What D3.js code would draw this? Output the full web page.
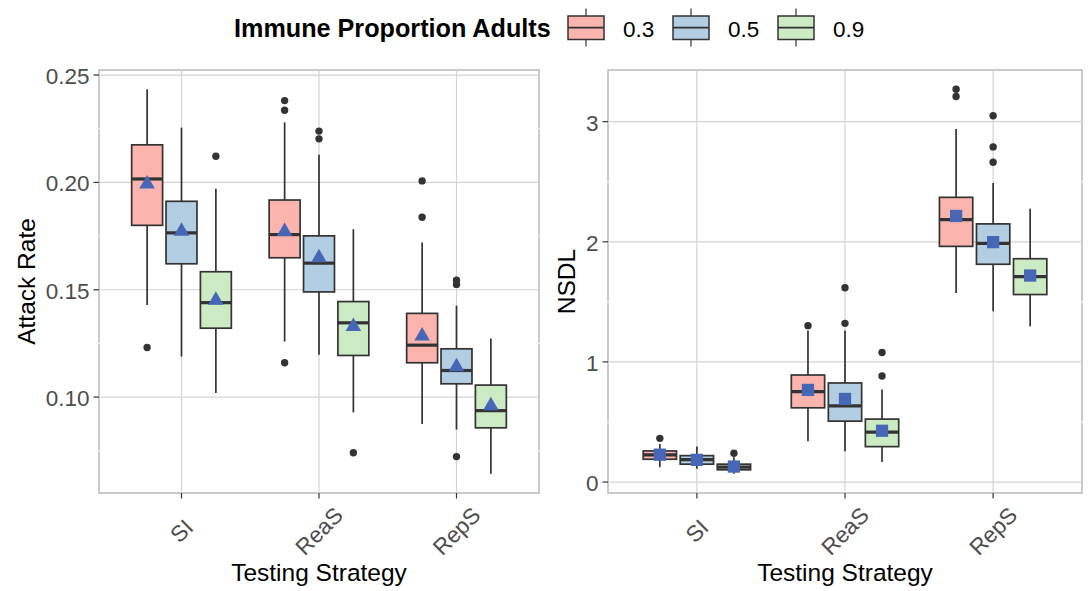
<!DOCTYPE html>
<html><head><meta charset="utf-8">
<script src="https://cdn.jsdelivr.net/npm/d3@7"></script>
<style>
body{margin:0;background:#fff}
text{font-family:"Liberation Sans",Arial,Helvetica,sans-serif}
</style>
</head><body>
<svg id="chart" width="1090" height="591"></svg>
<script>
// ---------- data ----------
const strategies = ["SI", "ReaS", "RepS"];
const immuneLevels = ["0.3", "0.5", "0.9"];
const fillColors = ["#FBB4AE", "#B3CDE3", "#CCEBC5"];
const legendTitle = "Immune Proportion Adults";
const xTitle = "Testing Strategy";

// order of every array: SI(0.3,0.5,0.9), ReaS(0.3,0.5,0.9), RepS(0.3,0.5,0.9)
const attackLow    = [0.1429, 0.1189, 0.1019, 0.1259, 0.1197, 0.0929, 0.0875, 0.0849, 0.0643];
const attackQ1     = [0.1800, 0.1621, 0.1321, 0.1649, 0.1490, 0.1194, 0.1160, 0.1062, 0.0857];
const attackMedian = [0.2016, 0.1765, 0.1440, 0.1757, 0.1624, 0.1346, 0.1242, 0.1124, 0.0937];
const attackQ3     = [0.2175, 0.1912, 0.1584, 0.1918, 0.1751, 0.1445, 0.1390, 0.1225, 0.1056];
const attackHigh   = [0.2434, 0.2255, 0.1971, 0.2280, 0.2129, 0.1782, 0.1720, 0.1426, 0.1273];
const attackMean   = [0.1993, 0.1773, 0.1451, 0.1771, 0.1649, 0.1329, 0.1285, 0.1141, 0.0960];
const attackOutliers = [[0.1231], [], [0.2122], [0.2381, 0.2336, 0.1160], [0.2239, 0.2203], [0.0741], [0.2007, 0.1838], [0.1545, 0.1525, 0.0723], []];
const attackTicks = [0.10, 0.15, 0.20, 0.25];
const attackMinor = [0.075, 0.125, 0.175, 0.225];

const nsdlLow    = [0.124, 0.110, 0.069, 0.339, 0.256, 0.166, 1.573, 1.421, 1.296];
const nsdlQ1     = [0.190, 0.149, 0.102, 0.618, 0.507, 0.295, 1.962, 1.813, 1.561];
const nsdlMedian = [0.226, 0.187, 0.124, 0.753, 0.634, 0.416, 2.185, 1.987, 1.710];
const nsdlQ3     = [0.259, 0.220, 0.149, 0.891, 0.825, 0.524, 2.370, 2.149, 1.859];
const nsdlHigh   = [0.317, 0.295, 0.207, 1.261, 1.261, 0.770, 2.939, 2.489, 2.276];
const nsdlMean   = [0.228, 0.185, 0.129, 0.767, 0.692, 0.427, 2.215, 1.997, 1.719];
const nsdlOutliers = [[0.364], [], [0.240], [1.302], [1.617, 1.321], [1.079, 0.883], [3.270, 3.209], [3.049, 2.790, 2.662], []];
const nsdlTicks = [0, 1, 2, 3];
const nsdlMinor = [0.5, 1.5, 2.5];

// ---------- drawing ----------
const svg = d3.select("#chart");
const meanColor = "#4766B5";
const lineColor = "#333333";
const tickFont = 22.5;

function buildRows(low, q1, med, q3, high, mean, outl) {
  const rows = [];
  strategies.forEach((s, i) => immuneLevels.forEach((g, j) => {
    const k = i * immuneLevels.length + j;
    rows.push({strategy: s, group: g, gi: j, low: low[k], q1: q1[k], median: med[k], q3: q3[k], high: high[k], mean: mean[k], outliers: outl[k]});
  }));
  return rows;
}

function drawPanel(cfg) {
  const {x0, x1, y0, y1, rows, ticks, minor, fmt, yTitle, yTitleX, meanSymbol, meanSize} = cfg;
  const all = rows.flatMap(r => [r.low, r.high, ...r.outliers]);
  const mn = d3.min(all), mx = d3.max(all), pad = (mx - mn) * 0.05;
  const y = d3.scaleLinear().domain([mn - pad, mx + pad]).range([y1, y0]);
  const x = d3.scalePoint().domain(strategies).range([x0, x1]).padding(0.6);
  const dodge = x.step() * 0.75 / immuneLevels.length;
  const xg = d3.scalePoint().domain(immuneLevels).range([-dodge, dodge]);
  const bw = dodge * 0.9;

  const g = svg.append("g");
  g.append("rect").attr("x", x0).attr("y", y0).attr("width", x1 - x0).attr("height", y1 - y0)
    .attr("fill", "#fff").attr("stroke", "#BDBDBD").attr("stroke-width", 1.6);
  g.selectAll(".mn").data(minor).join("line")
    .attr("x1", x0 - 1).attr("x2", x1 + 1).attr("y1", d => y(d)).attr("y2", d => y(d))
    .attr("stroke", "#fff").attr("stroke-width", 1);
  g.selectAll(".mjy").data(ticks).join("line")
    .attr("x1", x0).attr("x2", x1).attr("y1", d => y(d)).attr("y2", d => y(d))
    .attr("stroke", "#D3D3D3").attr("stroke-width", 1.2);
  g.selectAll(".mjx").data(strategies).join("line")
    .attr("x1", d => x(d)).attr("x2", d => x(d)).attr("y1", y0).attr("y2", y1)
    .attr("stroke", "#D3D3D3").attr("stroke-width", 1.2);

  const bx = g.selectAll(".box").data(rows).join("g")
    .attr("transform", d => `translate(${x(d.strategy) + xg(d.group)},0)`);
  bx.append("line").attr("x1", 0).attr("x2", 0).attr("y1", d => y(d.high)).attr("y2", d => y(d.q3))
    .attr("stroke", lineColor).attr("stroke-width", 1.7);
  bx.append("line").attr("x1", 0).attr("x2", 0).attr("y1", d => y(d.q1)).attr("y2", d => y(d.low))
    .attr("stroke", lineColor).attr("stroke-width", 1.7);
  bx.append("rect").attr("x", -bw / 2).attr("width", bw)
    .attr("y", d => y(d.q3)).attr("height", d => y(d.q1) - y(d.q3))
    .attr("fill", d => fillColors[d.gi]).attr("stroke", lineColor).attr("stroke-width", 1.7);
  bx.append("line").attr("x1", -bw / 2).attr("x2", bw / 2).attr("y1", d => y(d.median)).attr("y2", d => y(d.median))
    .attr("stroke", lineColor).attr("stroke-width", 3.2);
  bx.selectAll("circle").data(d => d.outliers).join("circle")
    .attr("cx", 0).attr("cy", d => y(d)).attr("r", 3.7).attr("fill", lineColor);
  bx.append("path").attr("d", d3.symbol(meanSymbol, meanSize)())
    .attr("transform", d => `translate(0,${y(d.mean)})`).attr("fill", meanColor);

  g.selectAll(".yt").data(ticks).join("line")
    .attr("x1", x0 - 5.5).attr("x2", x0).attr("y1", d => y(d)).attr("y2", d => y(d))
    .attr("stroke", lineColor).attr("stroke-width", 1.2);
  g.selectAll(".yl").data(ticks).join("text")
    .attr("x", x0 - 9.5).attr("y", d => y(d) + 1).attr("dy", "0.35em")
    .attr("text-anchor", "end").attr("font-size", tickFont).attr("fill", "#4D4D4D").text(fmt);
  g.selectAll(".xt").data(strategies).join("line")
    .attr("x1", d => x(d)).attr("x2", d => x(d)).attr("y1", y1).attr("y2", y1 + 5.5)
    .attr("stroke", lineColor).attr("stroke-width", 1.2);
  g.selectAll(".xl").data(strategies).join("text")
    .attr("transform", d => `translate(${x(d)},${531}) rotate(-45)`)
    .attr("dy", "0.35em").attr("text-anchor", "middle")
    .attr("font-size", tickFont).attr("fill", "#4D4D4D").text(d => d);
  g.append("text").attr("x", (x0 + x1) / 2).attr("y", 581).attr("text-anchor", "middle")
    .attr("font-size", 24.5).attr("fill", "#000").text(xTitle);
  g.append("text").attr("transform", `translate(${yTitleX},${(y0 + y1) / 2}) rotate(-90)`)
    .attr("text-anchor", "middle").attr("font-size", 24.5).attr("fill", "#000").text(yTitle);
}

drawPanel({
  x0: 99, x1: 539, y0: 70, y1: 493,
  rows: buildRows(attackLow, attackQ1, attackMedian, attackQ3, attackHigh, attackMean, attackOutliers),
  ticks: attackTicks, minor: attackMinor, fmt: d3.format(".2f"),
  yTitle: "Attack Rate", yTitleX: 35, meanSymbol: d3.symbolTriangle, meanSize: 105
});
drawPanel({
  x0: 608, x1: 1082, y0: 70, y1: 493,
  rows: buildRows(nsdlLow, nsdlQ1, nsdlMedian, nsdlQ3, nsdlHigh, nsdlMean, nsdlOutliers),
  ticks: nsdlTicks, minor: nsdlMinor, fmt: d3.format("d"),
  yTitle: "NSDL", yTitleX: 575, meanSymbol: d3.symbolSquare, meanSize: 150
});

// ---------- legend ----------
const lg = svg.append("g");
lg.append("text").attr("x", 234).attr("y", 37).attr("font-size", 25.2).attr("font-weight", "bold")
  .attr("fill", "#000").text(legendTitle);
const keyX = d3.scaleOrdinal().domain(immuneLevels).range([568, 673, 778]);
const keys = lg.selectAll(".key").data(immuneLevels).join("g")
  .attr("transform", d => `translate(${keyX(d)},0)`);
keys.append("line").attr("x1", 18).attr("x2", 18).attr("y1", 8.5).attr("y2", 46.5)
  .attr("stroke", lineColor).attr("stroke-width", 1.2);
keys.append("rect").attr("x", 0).attr("y", 16).attr("width", 36).attr("height", 23.5)
  .attr("fill", (d, i) => fillColors[i]).attr("stroke", lineColor).attr("stroke-width", 1.5);
keys.append("line").attr("x1", 0).attr("x2", 36).attr("y1", 27.7).attr("y2", 27.7)
  .attr("stroke", lineColor).attr("stroke-width", 1.7);
keys.append("text").attr("x", 55).attr("y", 36.5).attr("font-size", 22.5).attr("fill", "#000").text(d => d);
</script>
</body></html>
